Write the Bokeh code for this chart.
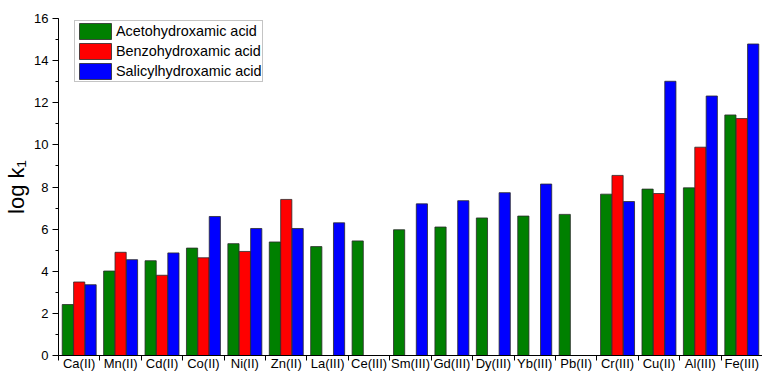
from bokeh.embed import file_html
from bokeh.resources import INLINE
from bokeh.plotting import figure
from bokeh.models import (ColumnDataSource, Range1d, FixedTicker,
                          SingleIntervalTicker, Legend, LegendItem)

# Stability constants (log k1) of hydroxamic acid complexes
metals = ["Ca(II)", "Mn(II)", "Cd(II)", "Co(II)", "Ni(II)", "Zn(II)", "La(III)",
          "Ce(III)", "Sm(III)", "Gd(III)", "Dy(III)", "Yb(III)", "Pb(II)",
          "Cr(III)", "Cu(II)", "Al(III)", "Fe(III)"]
aceto = [2.42, 4.01, 4.50, 5.10, 5.31, 5.39, 5.17, 5.44, 5.97, 6.10, 6.53,
         6.62, 6.70, 7.66, 7.90, 7.96, 11.42]
benzo = [3.49, 4.90, 3.81, 4.64, 4.94, 7.41, None, None, None, None, None,
         None, None, 8.55, 7.69, 9.89, 11.25]
salicyl = [3.36, 4.55, 4.87, 6.60, 6.03, 6.03, 6.30, None, 7.20, 7.35, 7.73,
           8.14, None, 7.31, 13.02, 12.32, 14.79]
series_names = ["Acetohydroxamic acid", "Benzohydroxamic acid",
                "Salicylhydroxamic acid"]
series_colors = ["#008000", "#ff0000", "#0000ff"]

FONT = "Liberation Sans"
BAR_W = 0.27
offsets = [-0.275, 0.0, 0.275]

p = figure(width=762, height=373, output_backend="svg", toolbar_location=None,
           x_range=Range1d(-0.5, len(metals) - 0.5), y_range=Range1d(0, 16),
           min_border_left=58, min_border_right=0, min_border_top=18,
           min_border_bottom=18)
p.outline_line_color = None
p.xgrid.visible = False
p.ygrid.visible = False
p.background_fill_color = "white"
p.border_fill_color = "white"

renderers = []
for vals, off, col in zip([aceto, benzo, salicyl], offsets, series_colors):
    xs = [i + off for i, v in enumerate(vals) if v is not None]
    ys = [v for v in vals if v is not None]
    src = ColumnDataSource(dict(x=xs, top=ys))
    r = p.vbar(x="x", top="top", bottom=0, width=BAR_W, source=src,
               fill_color=col, line_color="#2a2a2a", line_width=0.8)
    renderers.append(r)

# x axis: names at category centres, tick marks on the boundaries
xa = p.xaxis[0]
xa.ticker = FixedTicker(ticks=list(range(len(metals))),
                        minor_ticks=[i - 0.5 for i in range(len(metals) + 1)])
xa.major_label_overrides = {i: m for i, m in enumerate(metals)}
xa.major_tick_out = 0
xa.major_tick_in = 0
xa.minor_tick_out = 5
xa.minor_tick_in = 0
xa.major_label_standoff = -5
xa.major_label_text_font = FONT
xa.major_label_text_font_size = "13px"
xa.major_label_text_color = "black"
xa.axis_line_color = "black"
xa.minor_tick_line_color = "black"

ya = p.yaxis[0]
ya.ticker = SingleIntervalTicker(interval=2, num_minor_ticks=2)
ya.major_tick_out = 6
ya.major_tick_in = 0
ya.minor_tick_out = 3
ya.minor_tick_in = 0
ya.major_label_standoff = 4
ya.major_label_text_font = FONT
ya.major_label_text_font_size = "13px"
ya.major_label_text_color = "black"
ya.axis_line_color = "black"
ya.major_tick_line_color = "black"
ya.minor_tick_line_color = "black"
ya.axis_label = "log k\u2081"
ya.axis_label_text_font = FONT
ya.axis_label_text_font_size = "22px"
ya.axis_label_text_font_style = "normal"
ya.axis_label_text_color = "black"
ya.axis_label_standoff = 2

legend = Legend(items=[LegendItem(label=n, renderers=[r])
                       for n, r in zip(series_names, renderers)],
                location=(16, 273), margin=0, padding=0, spacing=-2,
                glyph_width=40, glyph_height=20, label_height=16,
                label_standoff=1, label_text_font=FONT,
                label_text_font_size="14.4px", label_text_color="black",
                border_line_color="#8a8a8a", border_line_width=1,
                background_fill_color="white", background_fill_alpha=1.0)
p.add_layout(legend)

open("out.html", "w").write(file_html(p, INLINE))
